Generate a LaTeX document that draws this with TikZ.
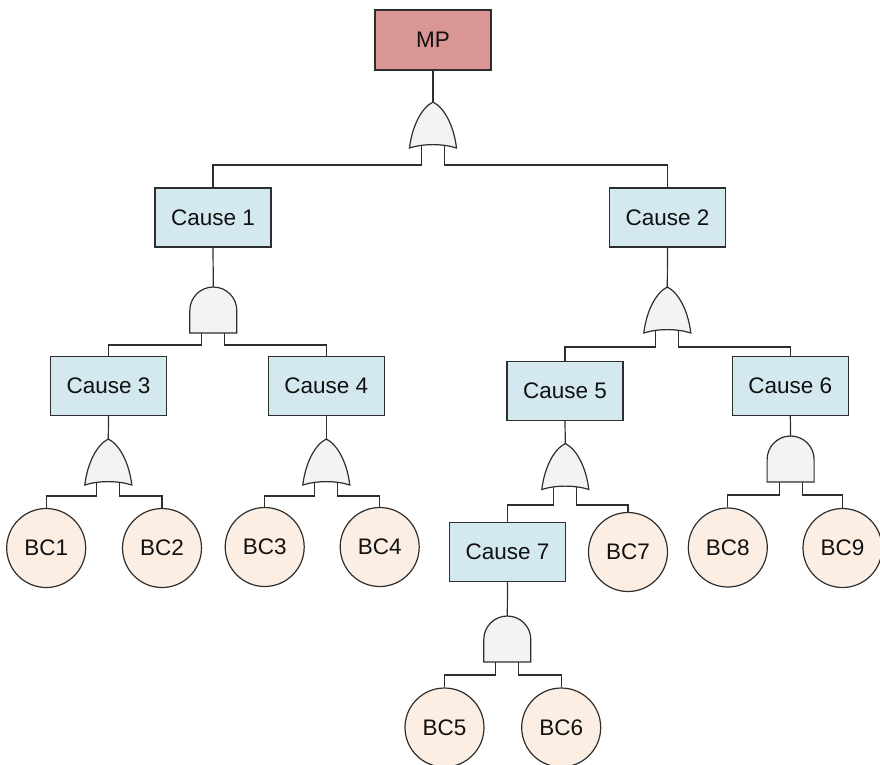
\documentclass[tikz,border=0pt]{standalone}
\usepackage{fontspec}
\setmainfont{Liberation Sans}
\definecolor{topfill}{HTML}{DA9694}
\definecolor{causefill}{HTML}{D4E8EF}
\definecolor{basicfill}{HTML}{FCEEE2}
\definecolor{gatefill}{HTML}{F3F3F3}
\definecolor{strokegray}{HTML}{2E2E2E}
\definecolor{textgray}{HTML}{111111}

% OR gate: name, centre x, top y, depth of the leg ends below the top
\newcommand\orgate[4]{%
  \begin{scope}[shift={(#2,#3)}]
    \draw[gateshape] (0,0) .. controls (12,6) and (21,25) .. (23.5,46)
      .. controls (10,41.5) and (-10,41.5) .. (-23.5,46)
      .. controls (-21,25) and (-12,6) .. (0,0) -- cycle;
    \coordinate (#1-in) at (0,0);
    \coordinate (#1-l) at (-11.5,43.5);
    \coordinate (#1-r) at (11.5,43.5);
    \coordinate (#1-lb) at (-11.5,#4);
    \coordinate (#1-rb) at (11.5,#4);
  \end{scope}}

% AND gate: name, centre x, top y, depth of the leg ends below the top
\newcommand\andgate[4]{%
  \begin{scope}[shift={(#2,#3)}]
    \draw[gateshape] (-23.5,46) -- (-23.5,23.5)
      .. controls (-23.5,10.5) and (-13,0) .. (0,0)
      .. controls (13,0) and (23.5,10.5) .. (23.5,23.5)
      -- (23.5,46) -- cycle;
    \coordinate (#1-in) at (0,0);
    \coordinate (#1-l) at (-11.5,46);
    \coordinate (#1-r) at (11.5,46);
    \coordinate (#1-lb) at (-11.5,#4);
    \coordinate (#1-rb) at (11.5,#4);
  \end{scope}}

\tikzset{
  boxbase/.style={draw=strokegray, line width=1.2pt, rectangle, minimum width=116pt,
    minimum height=59pt, inner sep=0pt, text=textgray,
    font=\fontsize{22.5}{26}\selectfont},
  topevent/.style={boxbase, fill=topfill, minimum height=60pt},
  cause/.style={boxbase, fill=causefill},
  basic/.style={draw=strokegray, line width=1.2pt, circle, fill=basicfill,
    minimum size=79pt, inner sep=0pt, text=textgray,
    font=\fontsize{22.5}{26}\selectfont},
  gateshape/.style={draw=strokegray, line width=1.2pt, fill=gatefill},
  wire/.style={draw=strokegray, line width=1.2pt}
}

\begin{document}
\begin{tikzpicture}[x=1pt,y=-1pt]
  \useasboundingbox (0,0) rectangle (880,764);

  % events
  \node[topevent] (MP) at (433,40) {MP};
  \node[cause] (C1) at (213,217.5) {Cause 1};
  \node[cause] (C2) at (667.5,217.5) {Cause 2};
  \node[cause] (C3) at (108.5,386) {Cause 3};
  \node[cause] (C4) at (326.3,386) {Cause 4};
  \node[cause] (C5) at (565,391) {Cause 5};
  \node[cause] (C6) at (790.3,386) {Cause 6};
  \node[cause] (C7) at (507.5,552) {Cause 7};

  \node[basic] (BC1) at (46.2,548) {BC1};
  \node[basic] (BC2) at (162,548) {BC2};
  \node[basic] (BC3) at (264.7,547) {BC3};
  \node[basic] (BC4) at (379.7,547) {BC4};
  \node[basic] (BC5) at (444.5,727.5) {BC5};
  \node[basic] (BC6) at (561.2,727.5) {BC6};
  \node[basic] (BC7) at (628,552) {BC7};
  \node[basic] (BC8) at (727.8,547.5) {BC8};
  \node[basic] (BC9) at (842.5,548) {BC9};

  % gates
  \orgate{g0}{433}{102}{63}
  \andgate{g1}{213.3}{287}{58}
  \orgate{g2}{667.3}{287}{60}
  \orgate{g3}{108.3}{439}{57}
  \orgate{g4}{326.3}{439}{57}
  \orgate{g5}{565.3}{443.5}{61.5}
  \andgate{g6}{790.6}{436}{59}
  \andgate{g7}{507.3}{616}{59}

  % connectors
  \draw[wire] (MP.south) -- (g0-in);
  \draw[wire] (g0-l) -- (g0-lb) -| (C1.north);
  \draw[wire] (g0-r) -- (g0-rb) -| (C2.north);

  \draw[wire] (C1.south) -- (g1-in);
  \draw[wire] (g1-l) -- (g1-lb) -| (C3.north);
  \draw[wire] (g1-r) -- (g1-rb) -| (C4.north);

  \draw[wire] (C2.south) -- (g2-in);
  \draw[wire] (g2-l) -- (g2-lb) -| (C5.north);
  \draw[wire] (g2-r) -- (g2-rb) -| (C6.north);

  \draw[wire] (C3.south) -- (g3-in);
  \draw[wire] (g3-l) -- (g3-lb) -| (BC1.north);
  \draw[wire] (g3-r) -- (g3-rb) -| (BC2.north);

  \draw[wire] (C4.south) -- (g4-in);
  \draw[wire] (g4-l) -- (g4-lb) -| (BC3.north);
  \draw[wire] (g4-r) -- (g4-rb) -| (BC4.north);

  \draw[wire] (C5.south) -- (g5-in);
  \draw[wire] (g5-l) -- (g5-lb) -| (C7.north);
  \draw[wire] (g5-r) -- (g5-rb) -| (BC7.north);

  \draw[wire] (C6.south) -- (g6-in);
  \draw[wire] (g6-l) -- (g6-lb) -| (BC8.north);
  \draw[wire] (g6-r) -- (g6-rb) -| (BC9.north);

  \draw[wire] (C7.south) -- (g7-in);
  \draw[wire] (g7-l) -- (g7-lb) -| (BC5.north);
  \draw[wire] (g7-r) -- (g7-rb) -| (BC6.north);
\end{tikzpicture}
\end{document}
